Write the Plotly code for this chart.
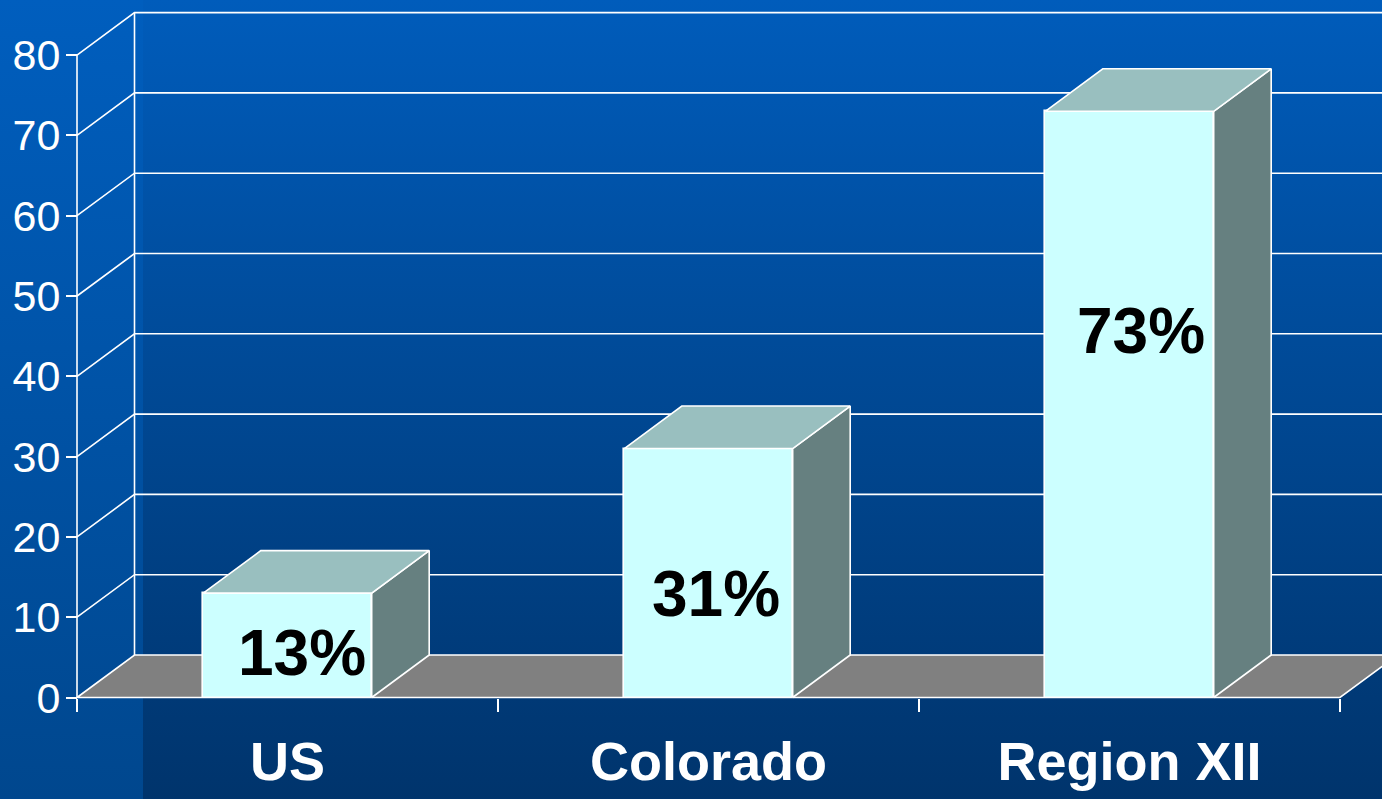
import plotly.graph_objects as go

# ---- data -------------------------------------------------------------
categories = ["US", "Colorado", "Region XII"]
percent = [13, 31, 73]
y_ticks = [0, 10, 20, 30, 40, 50, 60, 70, 80]

# placement of the value labels inside each bar (data units)
label_y = [5.5, 12.9, 45.6]
label_dx = [0.034, 0.018, 0.027]

# ---- page geometry ----------------------------------------------------
W, H = 1382, 799
X0_PX, Y0_PX = 77, 697.5      # front-left corner of the floor
CAT_PX = 421                  # pixels per category slot
UNIT_PX = 8.03                # pixels per percentage point
DEPTH_PX = (57.5, 42.5)       # oblique depth of the 3-D box
BAR_W = 0.4

x_range = [-0.5 - X0_PX / CAT_PX, -0.5 + (W - X0_PX) / CAT_PX]
y_range = [-(H - Y0_PX) / UNIT_PX, Y0_PX / UNIT_PX]
dx = DEPTH_PX[0] / CAT_PX
dy = DEPTH_PX[1] / UNIT_PX
x_left, x_right = -0.5, len(categories) - 0.5
x_far = x_range[1] + 0.5

WHITE = "#ffffff"
LINE_W = 1.6
FRONT, TOP, SIDE, FLOOR = "#ccffff", "#99bfbf", "#668080", "#808080"
NARROW = "Liberation Sans Narrow, Arial Narrow, Liberation Sans, Arial, sans-serif"

fig = go.Figure()

# ---- slide background (two vertical gradients) ------------------------
x_split = x_range[0] + 143 / CAT_PX
for xa, xb, c_bot, c_top in [
    (x_range[0] - 0.1, x_split, "#00478e", "#005ebe"),
    (x_split, x_far, "#00346c", "#005cbb"),
]:
    fig.add_trace(go.Scatter(
        x=[xa, xb, xb, xa, xa],
        y=[y_range[0] - 5, y_range[0] - 5, y_range[1] + 5, y_range[1] + 5, y_range[0] - 5],
        mode="lines", line=dict(width=0), fill="toself",
        fillgradient=dict(type="vertical",
                          colorscale=[[0, c_bot], [1, c_top]],
                          start=y_range[0], stop=y_range[1]),
        hoverinfo="skip", showlegend=False,
    ))

# ---- back wall gridlines and left-wall diagonals ----------------------
gx, gy = [], []
for v in y_ticks[1:]:
    gx += [x_left, x_left + dx, x_far, None]
    gy += [v, v + dy, v + dy, None]
gx += [x_left + dx, x_left + dx, None]
gy += [dy, y_ticks[-1] + dy, None]
fig.add_trace(go.Scatter(x=gx, y=gy, mode="lines",
                         line=dict(color=WHITE, width=LINE_W),
                         hoverinfo="skip", showlegend=False))

# ---- floor ------------------------------------------------------------
fig.add_trace(go.Scatter(
    x=[x_left, x_left + dx, x_far + dx, x_right + dx, x_right, x_left],
    y=[0, dy, dy, dy, 0, 0],
    mode="lines", fill="toself", fillcolor=FLOOR,
    line=dict(color=WHITE, width=LINE_W),
    hoverinfo="skip", showlegend=False))

# front vertical axis line
fig.add_trace(go.Scatter(x=[x_left, x_left], y=[0, y_ticks[-1]], mode="lines",
                         line=dict(color=WHITE, width=LINE_W),
                         hoverinfo="skip", showlegend=False))

# ---- bars (overlay subplot so they sit above the floor) ---------------
xs = list(range(len(categories)))
fig.add_trace(go.Bar(
    x=xs, y=percent, width=BAR_W, xaxis="x2", yaxis="y2",
    marker=dict(color=FRONT, line=dict(color=WHITE, width=LINE_W)),
    hoverinfo="skip", showlegend=False))

for xi, v in zip(xs, percent):
    l, r = xi - BAR_W / 2, xi + BAR_W / 2
    # side face
    fig.add_trace(go.Scatter(
        x=[r, r + dx, r + dx, r, r], y=[0, dy, v + dy, v, 0],
        xaxis="x2", yaxis="y2", mode="lines", fill="toself", fillcolor=SIDE,
        line=dict(color=WHITE, width=LINE_W), hoverinfo="skip", showlegend=False))
    # top face
    fig.add_trace(go.Scatter(
        x=[l, r, r + dx, l + dx, l], y=[v, v, v + dy, v + dy, v],
        xaxis="x2", yaxis="y2", mode="lines", fill="toself", fillcolor=TOP,
        line=dict(color=WHITE, width=LINE_W), hoverinfo="skip", showlegend=False))

for xi, v, ly, ldx in zip(xs, percent, label_y, label_dx):
    fig.add_annotation(
        x=xi + ldx, y=ly, xref="x2", yref="y2", text=f"{v}%", showarrow=False,
        font=dict(family=NARROW, size=64, color="#000000", weight="bold"),
        xanchor="center", yanchor="middle")

# ---- axes -------------------------------------------------------------
fig.update_layout(
    width=W, height=H, margin=dict(l=0, r=0, t=0, b=0),
    paper_bgcolor="#004a9c", plot_bgcolor="rgba(0,0,0,0)",
    bargap=0, showlegend=False,
    xaxis=dict(
        range=x_range, domain=[0, 1], anchor="free", position=1 - Y0_PX / H,
        tickmode="array", tickvals=xs, ticktext=categories,
        ticks="", showline=False, showgrid=False, zeroline=False,
        tickfont=dict(family=NARROW, size=54, color=WHITE, weight="bold"),
        ticklabelstandoff=27,
        minor=dict(tickmode="array", tickvals=[x_left + k for k in range(len(categories) + 1)],
                   ticks="outside", ticklen=13, tickcolor=WHITE, tickwidth=LINE_W,
                   showgrid=False),
    ),
    yaxis=dict(
        range=y_range, domain=[0, 1], anchor="free", position=X0_PX / W,
        side="left", tickmode="array", tickvals=y_ticks,
        ticks="outside", ticklen=11, tickcolor=WHITE, tickwidth=LINE_W,
        showline=False, showgrid=False, zeroline=False,
        tickfont=dict(family="Liberation Sans, Arial, sans-serif", size=43, color=WHITE),
        ticklabelstandoff=-3,
    ),
    xaxis2=dict(range=x_range, overlaying="x", anchor="y2", visible=False),
    yaxis2=dict(range=y_range, overlaying="y", anchor="x2", visible=False),
)

fig.write_html("out.html")
